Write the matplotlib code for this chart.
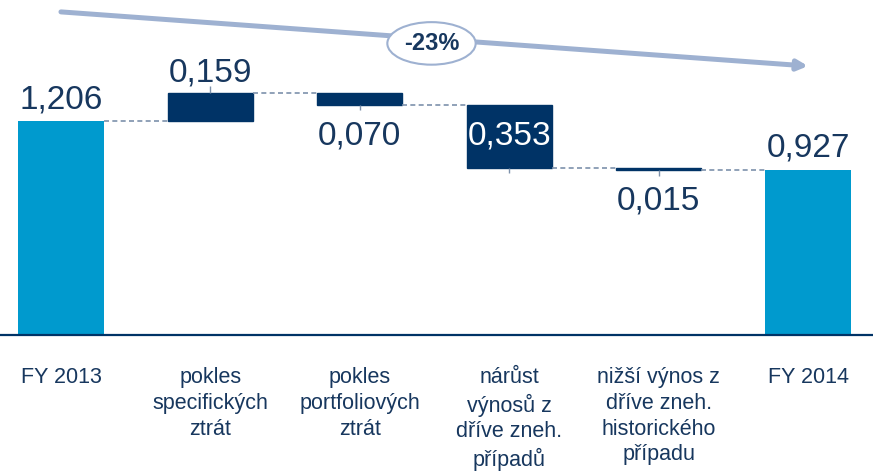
import matplotlib
matplotlib.use("Agg")
import matplotlib.pyplot as plt

plt.rcParams["font.family"] = ["Liberation Sans", "DejaVu Sans"]

# data
categories = ["FY 2013", "pokles\nspecifických\nztrát", "pokles\nportfoliových\nztrát",
              "nárůst\nvýnosů z\ndříve zneh.\npřípadů", "nižší výnos z\ndříve zneh.\nhistorického\npřípadu",
              "FY 2014"]
start_value = 1.206
changes = [0.159, -0.070, -0.353, -0.015]
end_value = 0.927
value_labels = ["1,206", "0,159", "0,070", "0,353", "0,015", "0,927"]
change_text = "-23%"

LIGHT = "#009ACE"
DARK = "#003366"
TEXT = "#17375E"
ARROW = "#9EB1D1"
DASH = "#7D91AB"

fig = plt.figure(figsize=(8.73, 4.71), dpi=100)
ax = fig.add_axes([0, 136 / 471, 1, 335 / 471])
ax.set_xlim(-0.408, 5.435)
ax.set_ylim(0, 1.887)

w = 0.57
# totals
ax.bar(0, start_value, width=w, color=LIGHT)
ax.bar(5, end_value, width=w, color=LIGHT)

# floating bars
level = start_value
levels = [level]
for i, c in enumerate(changes, start=1):
    bottom = min(level, level + c)
    ax.bar(i, abs(c), bottom=bottom, width=w, color=DARK, edgecolor=DARK, linewidth=1)
    level += c
    levels.append(level)

# dashed connectors
for i, lv in enumerate(levels):
    ax.plot([i + w / 2, i + 1 - w / 2], [lv, lv], ls=(0, (3, 2)), color=DASH, lw=1.2)

# little ticks at bar edges
for i, c in enumerate(changes, start=1):
    lv_prev = levels[i - 1]
    if c > 0:
        ax.vlines(i, lv_prev + c, lv_prev + c + 0.035, color=DASH, lw=1)
    else:
        ax.vlines(i, lv_prev + c - 0.03, lv_prev + c, color=DASH, lw=1)

# value labels
fs = 24
ax.text(0, start_value + 0.07, value_labels[0], ha="center", va="baseline", fontsize=fs, color=TEXT)
ax.text(5, end_value + 0.08, value_labels[5], ha="center", va="baseline", fontsize=fs, color=TEXT)
for i, c in enumerate(changes, start=1):
    lv_prev = levels[i - 1]
    lab = value_labels[i]
    if c > 0:
        ax.text(i, lv_prev + c + 0.065, lab, ha="center", va="baseline", fontsize=fs, color=TEXT)
    elif abs(c) > 0.2:
        ax.text(i, lv_prev + c / 2, lab, ha="center", va="center", fontsize=fs, color="white")
    else:
        ax.text(i, lv_prev + c - 0.085, lab, ha="center", va="top", fontsize=fs, color=TEXT)

# trend arrow
y0, y1 = 1.82, 1.515
ax.annotate("", xy=(5, y1), xytext=(0, y0),
            arrowprops=dict(arrowstyle="-|>,head_length=0.6,head_width=0.3", color=ARROW, lw=3.6,
                            shrinkA=0, shrinkB=0))
ax.text(2.48, (y0 + y1) / 2 - 0.025, change_text, ha="center", va="center", fontsize=17,
        fontweight="bold", color=TEXT,
        bbox=dict(boxstyle="ellipse,pad=0.15", fc="white", ec=ARROW, lw=1.5))

# axis
ax.set_xticks(range(len(categories)))
ax.set_xticklabels(categories, fontsize=15.5, color=TEXT, linespacing=1.3)
ax.tick_params(axis="x", length=0, pad=23)
ax.set_yticks([])
for s in ["top", "left", "right"]:
    ax.spines[s].set_visible(False)
ax.spines["bottom"].set_color(DARK)
ax.spines["bottom"].set_linewidth(1.6)

fig.savefig("out.png", dpi=100)
